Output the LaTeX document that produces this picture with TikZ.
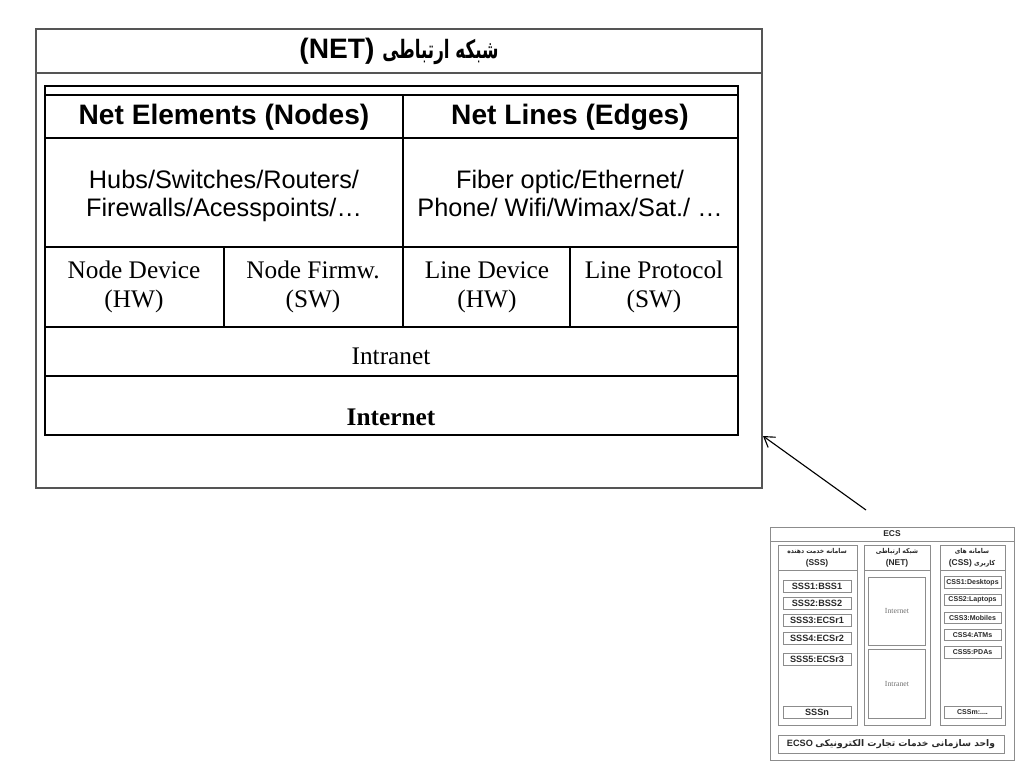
\documentclass[tikz,border=0pt]{standalone}
\usepackage{fontspec}
\usepackage{graphicx}
\setmainfont{Liberation Serif}
\setsansfont{Liberation Sans}
\newfontfamily\arabicfont[Script=Arabic]{DejaVu Sans}
\TeXXeTstate=1
\usetikzlibrary{arrows.meta}
\usepackage{xcolor}
\definecolor{framegray}{RGB}{85,85,85}
\definecolor{thumbgray}{RGB}{140,140,140}
\definecolor{thumbtext}{RGB}{40,40,40}
\newcommand{\fa}[2][1]{\scalebox{#1}[1]{\arabicfont\beginR #2\endR}}

\begin{document}
\begin{tikzpicture}[
    x=0.025cm, y=-0.025cm,
    frame/.style={draw=framegray, line width=0.9pt},
    grid/.style={draw=black, line width=1pt},
    hdr/.style={font=\sffamily\bfseries\fontsize{20}{22}\selectfont},
    lst/.style={font=\sffamily\fontsize{18}{19.5}\selectfont, align=center},
    cel/.style={font=\fontsize{18}{21}\selectfont, align=center},
    thumb/.style={draw=thumbgray, line width=0.6pt},
    sitem/.style={thumb, font=\sffamily\bfseries\fontsize{6.5}{7}\selectfont, text=thumbtext,
        minimum width=1.7cm, minimum height=0.3cm, inner sep=0pt},
    citem/.style={thumb, font=\sffamily\bfseries\fontsize{5}{6}\selectfont, text=thumbtext,
        minimum width=1.425cm, minimum height=0.29cm, inner sep=0pt},
    shdr/.style={font=\sffamily\bfseries\fontsize{6}{8.5}\selectfont, text=thumbtext, align=center},
    snet/.style={font=\fontsize{5.5}{6}\selectfont, text=thumbgray!80!black}
]
\useasboundingbox (0,0) rectangle (1024,768);

% NET frame
\draw[frame] (36,29) rectangle (762,488);
\draw[frame] (36,73) -- (762,73);
\node[font=\sffamily\bfseries\fontsize{20}{22}\selectfont] (title) at (399,51)
    {(NET) {\fontsize{18}{20}\selectfont\fa[0.66]{شبکه ارتباطی}}};

% Table
\draw[grid] (45,86) rectangle (738,435);
\draw[grid] (45,95) -- (738,95);
\draw[grid] (45,138) -- (738,138);
\draw[grid] (45,247) -- (738,247);
\draw[grid] (45,327) -- (738,327);
\draw[grid] (45,376) -- (738,376);
\draw[grid] (403,95) -- (403,327);
\draw[grid] (224,247) -- (224,327);
\draw[grid] (570,247) -- (570,327);

\node[hdr] (elements) at (224,117) {Net Elements (Nodes)};
\node[hdr] (lines) at (570,117) {Net Lines (Edges)};
\node[lst] (devices) at (224,197) {\strut Hubs/Switches/Routers/\\\strut Firewalls/Acesspoints/…};
\node[lst] (media) at (570,197) {\strut Fiber optic/Ethernet/\\\strut Phone/ Wifi/Wimax/Sat./ …};
\node[cel] (nodehw) at (134,287) {\strut Node Device\\\strut (HW)};
\node[cel] (nodesw) at (313,287) {\strut Node Firmw.\\\strut (SW)};
\node[cel] (linehw) at (487,287) {\strut Line Device\\\strut (HW)};
\node[cel] (linesw) at (654,287) {\strut Line Protocol\\\strut (SW)};
\node[cel] (intranet) at (391,356) {Intranet};
\node[cel, font=\bfseries\fontsize{18}{21}\selectfont] (internet) at (391,417) {Internet};

% ECS thumbnail
\draw[thumb] (770,527) rectangle (1014,760);
\draw[thumb] (770,541) -- (1014,541);
\node[shdr] (ecs) at (892,534) {ECS};

\draw[thumb] (778,545) rectangle (857,725);
\draw[thumb] (778,570) -- (857,570);
\node[shdr] (ssshdr) at (817,558) {{\fontsize{4.8}{6}\selectfont\fa[0.9]{سامانه خدمت دهنده}}\\(SSS)};
\draw[thumb] (864,545) rectangle (930,725);
\draw[thumb] (864,570) -- (930,570);
\node[shdr] (nethdr) at (897,558) {{\fontsize{4.8}{6}\selectfont\fa[0.9]{شبکه ارتباطی}}\\(NET)};
\draw[thumb] (940,545) rectangle (1005,725);
\draw[thumb] (940,570) -- (1005,570);
\node[shdr] (csshdr) at (972,558) {{\fontsize{4.8}{6}\selectfont\fa[0.9]{سامانه های}}\\(CSS) {\fontsize{4.8}{6}\selectfont\fa[0.9]{کاربری}}};

\node[sitem] (sss1) at (817,586) {SSS1:BSS1};
\node[sitem] (sss2) at (817,603) {SSS2:BSS2};
\node[sitem] (sss3) at (817,620) {SSS3:ECSr1};
\node[sitem] (sss4) at (817,638) {SSS4:ECSr2};
\node[sitem] (sss5) at (817,659) {SSS5:ECSr3};
\node[sitem] (sssn) at (817,712) {SSSn};

\node[thumb, minimum width=1.425cm, minimum height=1.7cm, inner sep=0pt] (netin) at (897,611) {};
\node[snet] (netinlbl) at (netin) {Internet};
\node[thumb, minimum width=1.425cm, minimum height=1.725cm, inner sep=0pt] (netout) at (897,683.5) {};
\node[snet] (netoutlbl) at (netout) {Intranet};

\node[citem] (css1) at (972.5,582.5) {CSS1:Desktops};
\node[citem] (css2) at (972.5,600) {CSS2:Laptops};
\node[citem] (css3) at (972.5,618) {CSS3:Mobiles};
\node[citem] (css4) at (972.5,635) {CSS4:ATMs};
\node[citem] (css5) at (972.5,652.5) {CSS5:PDAs};
\node[citem] (cssm) at (972.5,712.5) {CSSm:....};

\node[thumb, minimum width=5.65cm, minimum height=0.45cm, inner sep=0pt,
    font=\sffamily\bfseries\fontsize{6.5}{8}\selectfont, text=thumbtext] (ecso) at (891,744)
    {ECSO \fa{واحد سازمانی خدمات تجارت الکترونیکی}};

% pointer
\coordinate (ptr) at (866,510);
\coordinate (tip) at (763,436);
\draw[-{Straight Barb[length=7pt,width=9pt]}, line width=0.8pt] (ptr) -- (tip);
\end{tikzpicture}
\end{document}
